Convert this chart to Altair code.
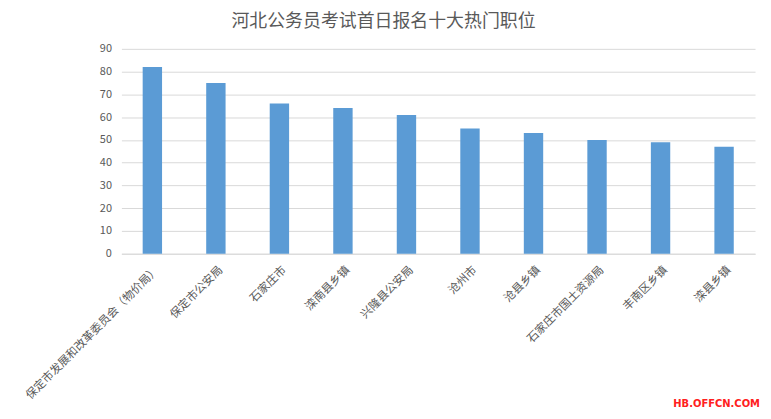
import altair as alt
import pandas as pd

categories = ["保定市发展和改革委员会（物价局）", "保定市公安局", "石家庄市", "滦南县乡镇", "兴隆县公安局",
              "沧州市", "沧县乡镇", "石家庄市国土资源局", "丰南区乡镇", "滦县乡镇"]
values = [82, 75, 66, 64, 61, 55, 53, 50, 49, 47]
y_ticks = [0, 10, 20, 30, 40, 50, 60, 70, 80, 90]
title_text = "河北公务员考试首日报名十大热门职位"
watermark = "HB.OFFCN.COM"

df = pd.DataFrame({"cat": categories, "val": values})
FONT = "Noto Sans CJK SC"

bars = alt.Chart(df).mark_bar(color="#5b9bd5").encode(
    x=alt.X("cat:N", sort=categories, title=None,
            scale=alt.Scale(paddingInner=0.695, paddingOuter=0.335),
            axis=alt.Axis(labelAngle=-45, labelFont=FONT, labelFontSize=11.5,
                          labelColor="#595959", ticks=False, domainColor="#d9d9d9",
                          labelPadding=10, labelOffset=1, labelLimit=300)),
    y=alt.Y("val:Q", title=None, scale=alt.Scale(domain=[0, 90]),
            axis=alt.Axis(values=y_ticks, labelFont=FONT, labelFontSize=11,
                          labelColor="#595959", ticks=False, domain=False,
                          gridColor="#d9d9d9", labelPadding=10)),
)

wm = alt.Chart(pd.DataFrame({"t": [watermark]})).mark_text(
    color="#ff2020", font="DejaVu Sans", fontSize=10, fontWeight="bold",
    align="right", baseline="middle"
).encode(x=alt.value(642), y=alt.value(405 - 48), text="t:N")

chart = alt.layer(bars, wm).properties(
    width=637, height=206,
    title=alt.TitleParams(title_text, font=FONT, fontSize=18, fontWeight="normal",
                          color="#595959", anchor="middle", dx=-55, offset=12),
    autosize=alt.AutoSizeParams(type="none"),
    padding={"left": 114, "top": 40, "right": 8, "bottom": 157},
).configure_view(stroke=None)

chart.save("out.html", embed_options={"renderer": "svg", "actions": False})
